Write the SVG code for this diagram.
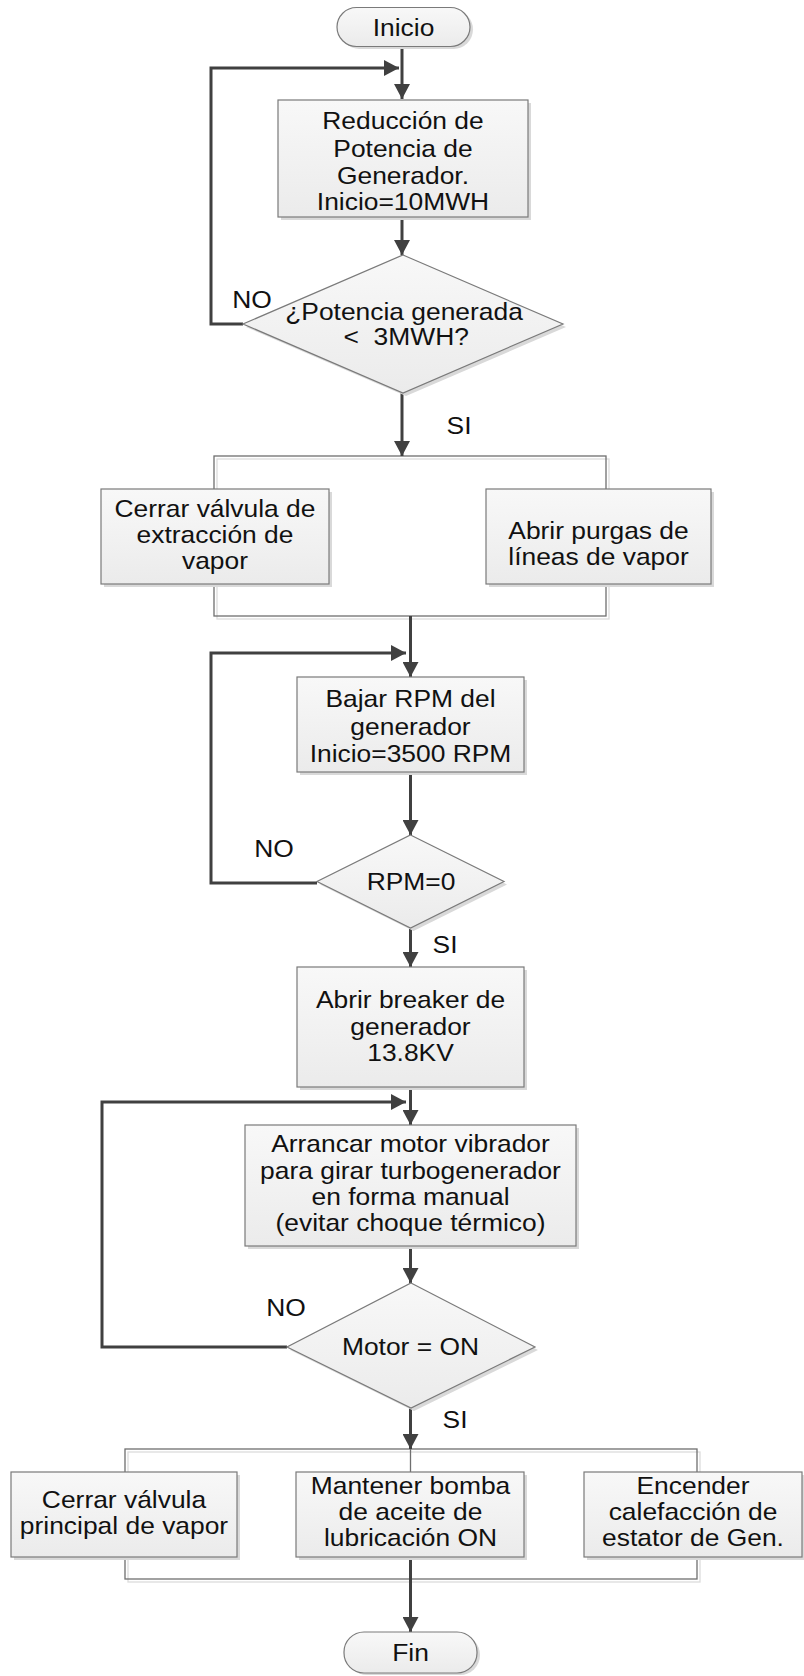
<svg xmlns="http://www.w3.org/2000/svg" width="804" height="1676" viewBox="0 0 804 1676">
<style>
  .bg{fill:#ffffff}
  .box{fill:url(#g);stroke:#7a7a7a;stroke-width:1.2}
  .sh{fill:#d9d9d9;stroke:none}
  .frame{fill:none;stroke:#6f6f6f;stroke-width:1.3}
  .fsh{fill:none;stroke:#dcdcdc;stroke-width:1.3}
  .con{fill:none;stroke:#404040;stroke-width:3}
  .t{font-family:"Liberation Sans",Arial,sans-serif;font-size:24px;fill:#111111;text-anchor:middle}
</style>
<defs>
  <linearGradient id="g" x1="0" y1="0" x2="0" y2="1">
    <stop offset="0" stop-color="#f8f8f8"/>
    <stop offset="1" stop-color="#ebebeb"/>
  </linearGradient>
  <marker id="arr" markerUnits="userSpaceOnUse" markerWidth="16" markerHeight="16" refX="15" refY="8" orient="auto">
    <path d="M0,0 L15,8 L0,16 Z" fill="#404040"/>
  </marker>
</defs>
<rect class="bg" x="0" y="0" width="804" height="1676"/>

<!-- frames (parallel groups) -->
<g id="frame1">
  <rect class="fsh" x="217" y="459" width="392" height="160"/>
  <rect class="frame" x="214" y="456" width="392" height="160"/>
</g>
<g id="frame2">
  <rect class="fsh" x="128" y="1452" width="572" height="130"/>
  <rect class="frame" x="125" y="1449" width="572" height="130"/>
  <line class="frame" x1="410.5" y1="1449" x2="410.5" y2="1472"/>
</g>

<g id="connectors">
  <line class="con" x1="402" y1="47" x2="402" y2="99" marker-end="url(#arr)"/>
  <line class="con" x1="402" y1="217" x2="402" y2="255" marker-end="url(#arr)"/>
  <polyline class="con" points="243,324 211,324 211,68 399,68" marker-end="url(#arr)"/>
  <line class="con" x1="402" y1="393" x2="402" y2="456" marker-end="url(#arr)"/>
  <line class="con" x1="410.5" y1="616" x2="410.5" y2="677" marker-end="url(#arr)"/>
  <polyline class="con" points="317,883 211,883 211,653 406,653" marker-end="url(#arr)"/>
  <line class="con" x1="410.5" y1="772" x2="410.5" y2="835" marker-end="url(#arr)"/>
  <line class="con" x1="410.5" y1="928" x2="410.5" y2="967" marker-end="url(#arr)"/>
  <line class="con" x1="410.5" y1="1087" x2="410.5" y2="1125" marker-end="url(#arr)"/>
  <polyline class="con" points="287,1347 102,1347 102,1102 406,1102" marker-end="url(#arr)"/>
  <line class="con" x1="410.5" y1="1246" x2="410.5" y2="1283" marker-end="url(#arr)"/>
  <line class="con" x1="410.5" y1="1408" x2="410.5" y2="1449" marker-end="url(#arr)"/>
  <line class="con" x1="410.5" y1="1557" x2="410.5" y2="1632" marker-end="url(#arr)"/>
</g>

<g id="inicio">
  <rect class="sh" x="340" y="10" width="133" height="39" rx="19.5"/>
  <rect class="box" x="337" y="7.5" width="133" height="39" rx="19.5"/>
  <text class="t" transform="translate(403.5 0) scale(1.1 1)"><tspan x="0" y="36">Inicio</tspan></text>
</g>

<g id="reduccion">
  <rect class="sh" x="281" y="103" width="250" height="117"/>
  <rect class="box" x="278" y="100" width="250" height="117"/>
  <text class="t" transform="translate(403 0) scale(1.1 1)"><tspan x="0" y="129">Reducción de</tspan><tspan x="0" y="157">Potencia de</tspan><tspan x="0" y="184">Generador.</tspan><tspan x="0" y="210">Inicio=10MWH</tspan></text>
</g>

<g id="dec1">
  <polygon class="sh" points="406,258 566,327 406,396 246,327"/>
  <polygon class="box" points="403,255 563,324 403,393 243,324"/>
  <text class="t" transform="translate(404 0) scale(1.1 1)"><tspan x="0" y="320">¿Potencia generada</tspan><tspan x="2" y="345">&lt;&#160; 3MWH?</tspan></text>
</g>
<text id="no1" class="t" transform="translate(252 0) scale(1.1 1)" x="0" y="308">NO</text>
<text id="si1" class="t" transform="translate(459 0) scale(1.1 1)" x="0" y="434">SI</text>

<g id="cerrar-extraccion">
  <rect class="sh" x="104" y="492" width="228" height="95"/>
  <rect class="box" x="101" y="489" width="228" height="95"/>
  <text class="t" transform="translate(215 0) scale(1.1 1)"><tspan x="0" y="517">Cerrar válvula de</tspan><tspan x="0" y="543">extracción de</tspan><tspan x="0" y="569">vapor</tspan></text>
</g>

<g id="abrir-purgas">
  <rect class="sh" x="489" y="492" width="225" height="95"/>
  <rect class="box" x="486" y="489" width="225" height="95"/>
  <text class="t" transform="translate(598.5 0) scale(1.1 1)"><tspan x="0" y="539">Abrir purgas de</tspan><tspan x="0" y="565">líneas de vapor</tspan></text>
</g>

<g id="bajar-rpm">
  <rect class="sh" x="300" y="680" width="227" height="95"/>
  <rect class="box" x="297" y="677" width="227" height="95"/>
  <text class="t" transform="translate(410.5 0) scale(1.1 1)"><tspan x="0" y="707">Bajar RPM del</tspan><tspan x="0" y="735">generador</tspan><tspan x="0" y="762">Inicio=3500 RPM</tspan></text>
</g>

<g id="dec2">
  <polygon class="sh" points="413.5,838 507,884.5 413.5,931 320,884.5"/>
  <polygon class="box" points="410.5,835 504,881.5 410.5,928 317,881.5"/>
  <text class="t" transform="translate(411 0) scale(1.1 1)" x="0" y="890">RPM=0</text>
</g>
<text id="no2" class="t" transform="translate(274 0) scale(1.1 1)" x="0" y="857">NO</text>
<text id="si2" class="t" transform="translate(445 0) scale(1.1 1)" x="0" y="953">SI</text>

<g id="abrir-breaker">
  <rect class="sh" x="300" y="970" width="227" height="120"/>
  <rect class="box" x="297" y="967" width="227" height="120"/>
  <text class="t" transform="translate(410.5 0) scale(1.1 1)"><tspan x="0" y="1008">Abrir breaker de</tspan><tspan x="0" y="1035">generador</tspan><tspan x="0" y="1061">13.8KV</tspan></text>
</g>

<g id="arrancar-motor">
  <rect class="sh" x="248" y="1128" width="331" height="121"/>
  <rect class="box" x="245" y="1125" width="331" height="121"/>
  <text class="t" transform="translate(410.5 0) scale(1.1 1)"><tspan x="0" y="1152">Arrancar motor vibrador</tspan><tspan x="0" y="1179">para girar turbogenerador</tspan><tspan x="0" y="1205">en forma manual</tspan><tspan x="0" y="1231">(evitar choque térmico)</tspan></text>
</g>

<g id="dec3">
  <polygon class="sh" points="414,1286 538,1350 414,1411 290,1350"/>
  <polygon class="box" points="411,1283 535,1347 411,1408 287,1347"/>
  <text class="t" transform="translate(410.5 0) scale(1.1 1)" x="0" y="1355">Motor = ON</text>
</g>
<text id="no3" class="t" transform="translate(286 0) scale(1.1 1)" x="0" y="1316">NO</text>
<text id="si3" class="t" transform="translate(455 0) scale(1.1 1)" x="0" y="1428">SI</text>

<g id="cerrar-principal">
  <rect class="sh" x="14" y="1475" width="226" height="85"/>
  <rect class="box" x="11" y="1472" width="226" height="85"/>
  <text class="t" transform="translate(124 0) scale(1.1 1)"><tspan x="0" y="1508">Cerrar válvula</tspan><tspan x="0" y="1534">principal de vapor</tspan></text>
</g>

<g id="mantener-bomba">
  <rect class="sh" x="299" y="1475" width="228" height="85"/>
  <rect class="box" x="296" y="1472" width="228" height="85"/>
  <text class="t" transform="translate(410.5 0) scale(1.1 1)"><tspan x="0" y="1494">Mantener bomba</tspan><tspan x="0" y="1520">de aceite de</tspan><tspan x="0" y="1546">lubricación ON</tspan></text>
</g>

<g id="encender-calefaccion">
  <rect class="sh" x="587" y="1475" width="217" height="85"/>
  <rect class="box" x="584" y="1472" width="218" height="85"/>
  <text class="t" transform="translate(693 0) scale(1.1 1)"><tspan x="0" y="1494">Encender</tspan><tspan x="0" y="1520">calefacción de</tspan><tspan x="0" y="1546">estator de Gen.</tspan></text>
</g>

<g id="fin">
  <rect class="sh" x="347" y="1635" width="133" height="40" rx="20"/>
  <rect class="box" x="344" y="1632" width="133" height="41" rx="20"/>
  <text class="t" transform="translate(410.5 0) scale(1.1 1)" x="0" y="1661">Fin</text>
</g>
</svg>
